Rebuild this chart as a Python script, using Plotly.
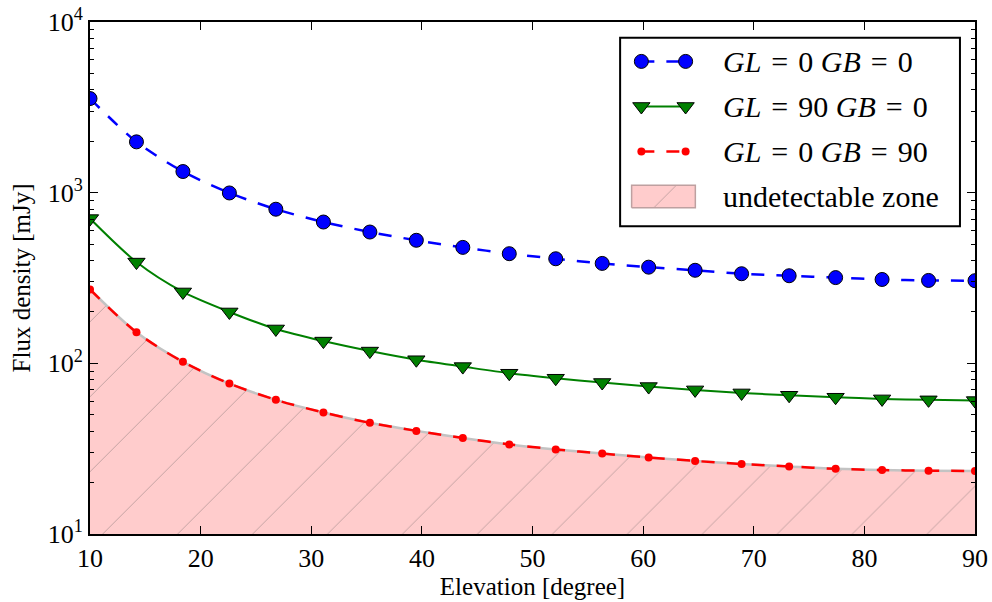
import plotly.graph_objects as go

# ---------------- data ----------------
elevation = [10.0, 14.2, 18.4, 22.6, 26.8, 31.1, 35.3, 39.5, 43.7, 47.9,
             52.1, 56.3, 60.5, 64.7, 68.9, 73.2, 77.4, 81.6, 85.8, 90.0]
flux_gl0_gb0 = [3560, 1985, 1330, 996, 800, 673, 588, 526, 478, 439,
                410, 385, 366, 351, 335, 326, 318, 310, 306, 305]
flux_gl90_gb0 = [705, 392, 262, 200, 159, 135, 118, 105, 95.7, 87.5,
                 81.8, 77.2, 73.1, 69.9, 67.1, 65.0, 63.3, 61.9, 61.1, 60.5]
flux_gl0_gb90 = [271, 152, 102, 76.1, 61.1, 51.5, 44.8, 40.2, 36.5, 33.5,
                 31.3, 29.6, 28.1, 26.8, 25.7, 24.9, 24.1, 23.7, 23.5, 23.4]
EQ = "\u2004=\u2004"
series_names = [f"<i>GL</i>{EQ}0 <i>GB</i>{EQ}0",
                f"<i>GL</i>{EQ}90 <i>GB</i>{EQ}0",
                f"<i>GL</i>{EQ}0 <i>GB</i>{EQ}90",
                "undetectable zone"]
x_ticks = [10, 20, 30, 40, 50, 60, 70, 80, 90]
y_major = [10, 100, 1000, 10000]
y_major_text = ["10<sup>1</sup>", "10<sup>2</sup>", "10<sup>3</sup>", "10<sup>4</sup>"]
y_minor = [m * d for d in (10, 100, 1000) for m in range(2, 10)]

FONT = "Liberation Serif"
PINK = "rgb(255,204,204)"
HATCH = "rgba(120,110,110,0.55)"
DASH = "13px,12px"

fig = go.Figure()

# undetectable zone (fill under the red curve)
fig.add_trace(go.Scatter(
    x=elevation, y=flux_gl0_gb90, mode="lines", fill="tozeroy",
    line=dict(color="rgb(195,195,195)", width=2.5, shape="spline", smoothing=0.8),
    fillcolor=PINK,
    fillpattern=dict(shape="/", size=53, solidity=0.015, fgcolor=HATCH,
                     bgcolor=PINK, fillmode="replace"),
    showlegend=False, hoverinfo="skip"))

# red dashed, small dots
fig.add_trace(go.Scatter(
    x=elevation, y=flux_gl0_gb90, mode="lines+markers",
    line=dict(color="red", width=2.5, dash=DASH, shape="spline", smoothing=0.8),
    marker=dict(symbol="circle", size=8, color="red", line=dict(width=0)),
    showlegend=False))

# green solid, triangles down
fig.add_trace(go.Scatter(
    x=elevation, y=flux_gl90_gb0, mode="lines+markers",
    line=dict(color="green", width=2, shape="spline", smoothing=0.8),
    marker=dict(symbol="triangle-down", size=15, color="green",
                line=dict(width=1, color="black")),
    showlegend=False))

# blue dashed, circles
fig.add_trace(go.Scatter(
    x=elevation, y=flux_gl0_gb0, mode="lines+markers",
    line=dict(color="blue", width=2.5, dash=DASH, shape="spline", smoothing=0.8),
    marker=dict(symbol="circle", size=14, color="blue",
                line=dict(width=1, color="black")),
    showlegend=False))

# ---------------- custom matplotlib-like legend (overlay axes 0..1) ----------------
L = "x2"; LY = "y2"
row_y = [0.923, 0.835, 0.747, 0.659]
mx = [0.623, 0.673]
fig.add_trace(go.Scatter(x=mx, y=[row_y[0]] * 2, xaxis=L, yaxis=LY, mode="lines+markers",
                         line=dict(color="blue", width=2.5, dash=DASH),
                         marker=dict(symbol="circle", size=14, color="blue", line=dict(width=1, color="black")),
                         showlegend=False, hoverinfo="skip"))
fig.add_trace(go.Scatter(x=mx, y=[row_y[1]] * 2, xaxis=L, yaxis=LY, mode="lines+markers",
                         line=dict(color="green", width=2),
                         marker=dict(symbol="triangle-down", size=15, color="green", line=dict(width=1, color="black")),
                         showlegend=False, hoverinfo="skip"))
fig.add_trace(go.Scatter(x=mx, y=[row_y[2]] * 2, xaxis=L, yaxis=LY, mode="lines+markers",
                         line=dict(color="red", width=2.5, dash=DASH),
                         marker=dict(symbol="circle", size=8, color="red"),
                         showlegend=False, hoverinfo="skip"))
px0, px1, py0, py1 = 0.612, 0.684, 0.637, 0.681
fig.add_trace(go.Scatter(x=[px0, px1, px1, px0, px0], y=[py0, py0, py1, py1, py0],
                         xaxis=L, yaxis=LY, mode="lines", fill="toself",
                         line=dict(color="rgb(190,160,160)", width=1.5),
                         fillcolor=PINK,
                         fillpattern=dict(shape="/", size=53, solidity=0.015, fgcolor=HATCH,
                                          bgcolor=PINK, fillmode="replace"),
                         showlegend=False, hoverinfo="skip"))
for yy, name in zip(row_y, series_names):
    fig.add_annotation(x=0.713, y=yy, xref="x2", yref="y2", text=name, showarrow=False,
                       xanchor="left", yanchor="middle",
                       font=dict(family=FONT, size=30, color="black"))
fig.add_shape(type="rect", xref="x2", yref="y2", x0=0.599, x1=0.983, y0=0.601, y1=0.969,
              line=dict(color="black", width=2), fillcolor="rgba(0,0,0,0)", layer="above")

axis_common = dict(showline=True, linecolor="black", linewidth=2, mirror="allticks",
                   ticks="inside", tickcolor="black", ticklen=8, tickwidth=1,
                   showgrid=False, zeroline=False, automargin=False,
                   tickfont=dict(family=FONT, size=26, color="black"))

fig.update_layout(
    width=992, height=602,
    margin=dict(l=90, r=17, t=22, b=68),
    paper_bgcolor="white", plot_bgcolor="white",
    font=dict(family=FONT, color="black"),
    xaxis=dict(range=[10, 90], tickvals=x_ticks, ticktext=[str(v) for v in x_ticks],
               title=dict(text="Elevation [degree]", font=dict(family=FONT, size=25), standoff=4),
               **axis_common),
    yaxis=dict(type="log", range=[1, 4], tickvals=y_major, ticktext=y_major_text,
               minor=dict(tickmode="array", tickvals=y_minor, ticks="inside", ticklen=4,
                          tickcolor="black", tickwidth=1),
               title=dict(text="Flux density [mJy]", font=dict(family=FONT, size=25), standoff=10),
               **axis_common),
    xaxis2=dict(overlaying="x", range=[0, 1], visible=False, anchor="y2", fixedrange=True),
    yaxis2=dict(overlaying="y", range=[0, 1], visible=False, anchor="x2", fixedrange=True),
)

fig.write_html("out.html", config={"displayModeBar": False},
               post_script="document.body.style.margin='0';document.body.style.padding='0';")
